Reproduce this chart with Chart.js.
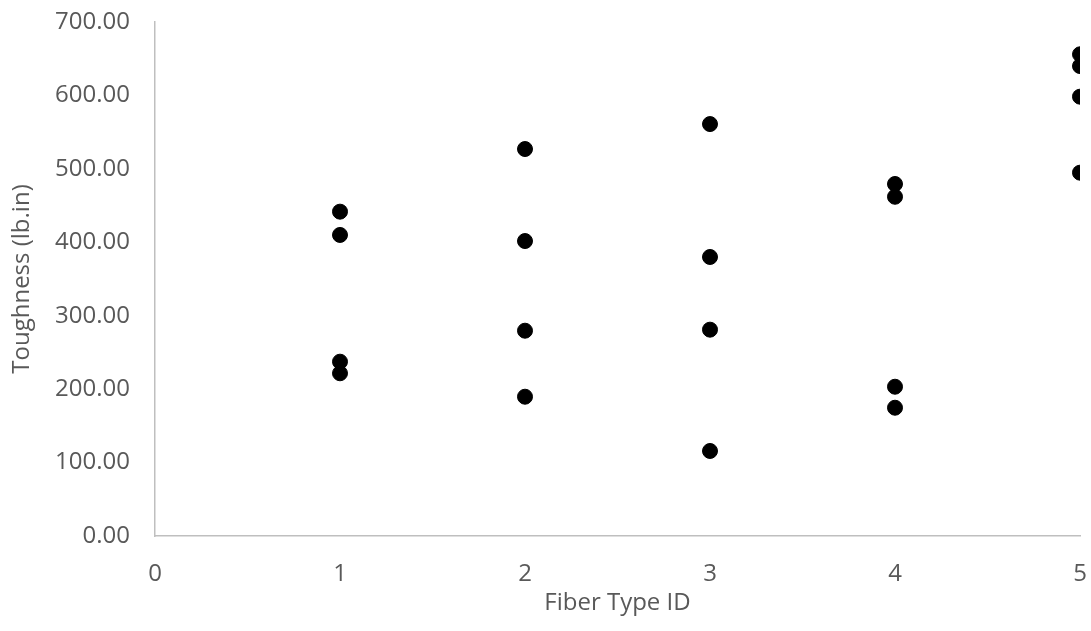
<!DOCTYPE html>
<html>
<head>
<meta charset="utf-8">
<script src="https://cdn.jsdelivr.net/npm/chart.js@4/dist/chart.umd.min.js"></script>
<style>
  html, body { margin: 0; padding: 0; background: #fff; }
  #wrap { width: 1091px; height: 631px; }
</style>
</head>
<body>
<div id="wrap"><canvas id="myChart" width="1091" height="631"></canvas></div>
<script>
// Fiber type IDs and measured toughness per specimen
const fiberType1 = [441.7, 410.0, 237.4, 221.6];
const fiberType2 = [527.0, 401.7, 279.6, 189.7];
const fiberType3 = [561.0, 380.0, 281.0, 115.8];
const fiberType4 = [479.4, 462.0, 203.3, 174.7];
const fiberType5 = [656.0, 640.0, 598.3, 494.8];
const fiberIds = [1, 2, 3, 4, 5];

const groups = [fiberType1, fiberType2, fiberType3, fiberType4, fiberType5];
let points = [];
groups.forEach((vals, i) => {
    vals.forEach(v => points.push({ x: fiberIds[i], y: v }));
});

const tickFont = { family: "'Open Sans', sans-serif", size: 24 };
const titleFont = { family: "'Open Sans', sans-serif", size: 24 };

let ctx = document.getElementById('myChart').getContext('2d');
let myChart = new Chart(ctx, {
    type: 'scatter',
    data: {
        datasets: [{
            data: points,
            backgroundColor: '#000000',
            borderColor: '#000000',
            pointRadius: 7.5,
            pointHoverRadius: 7.5
        }]
    },
    options: {
        responsive: false,
        animation: false,
        layout: { padding: { top: 22, right: 11, left: 0, bottom: 0 } },
        plugins: { legend: { display: false }, tooltip: { enabled: false } },
        scales: {
            x: {
                type: 'linear',
                min: 0,
                max: 5,
                grid: { display: false },
                border: { display: true, color: '#bfbfbf', width: 1.5 },
                ticks: { stepSize: 1, color: '#595959', font: tickFont, padding: 16 },
                title: {
                    display: true, text: 'Fiber Type ID', color: '#595959', font: titleFont,
                    padding: { top: 16, bottom: 13 }
                },
                afterFit: s => { s.height = 95; s.paddingLeft = 0; s.paddingRight = 0; }
            },
            y: {
                min: 0,
                max: 700,
                grid: { display: false },
                border: { display: true, color: '#bfbfbf', width: 1.5 },
                ticks: {
                    stepSize: 100,
                    color: '#595959',
                    font: tickFont,
                    padding: 17,
                    callback: v => v.toFixed(2)
                },
                title: {
                    display: true, text: 'Toughness (lb.in)', color: '#595959', font: titleFont,
                    padding: { top: 8, bottom: 0 }
                },
                afterFit: s => { s.width = 155; s.paddingTop = 0; s.paddingBottom = 0; }
            }
        }
    }
});
</script>
</body>
</html>
